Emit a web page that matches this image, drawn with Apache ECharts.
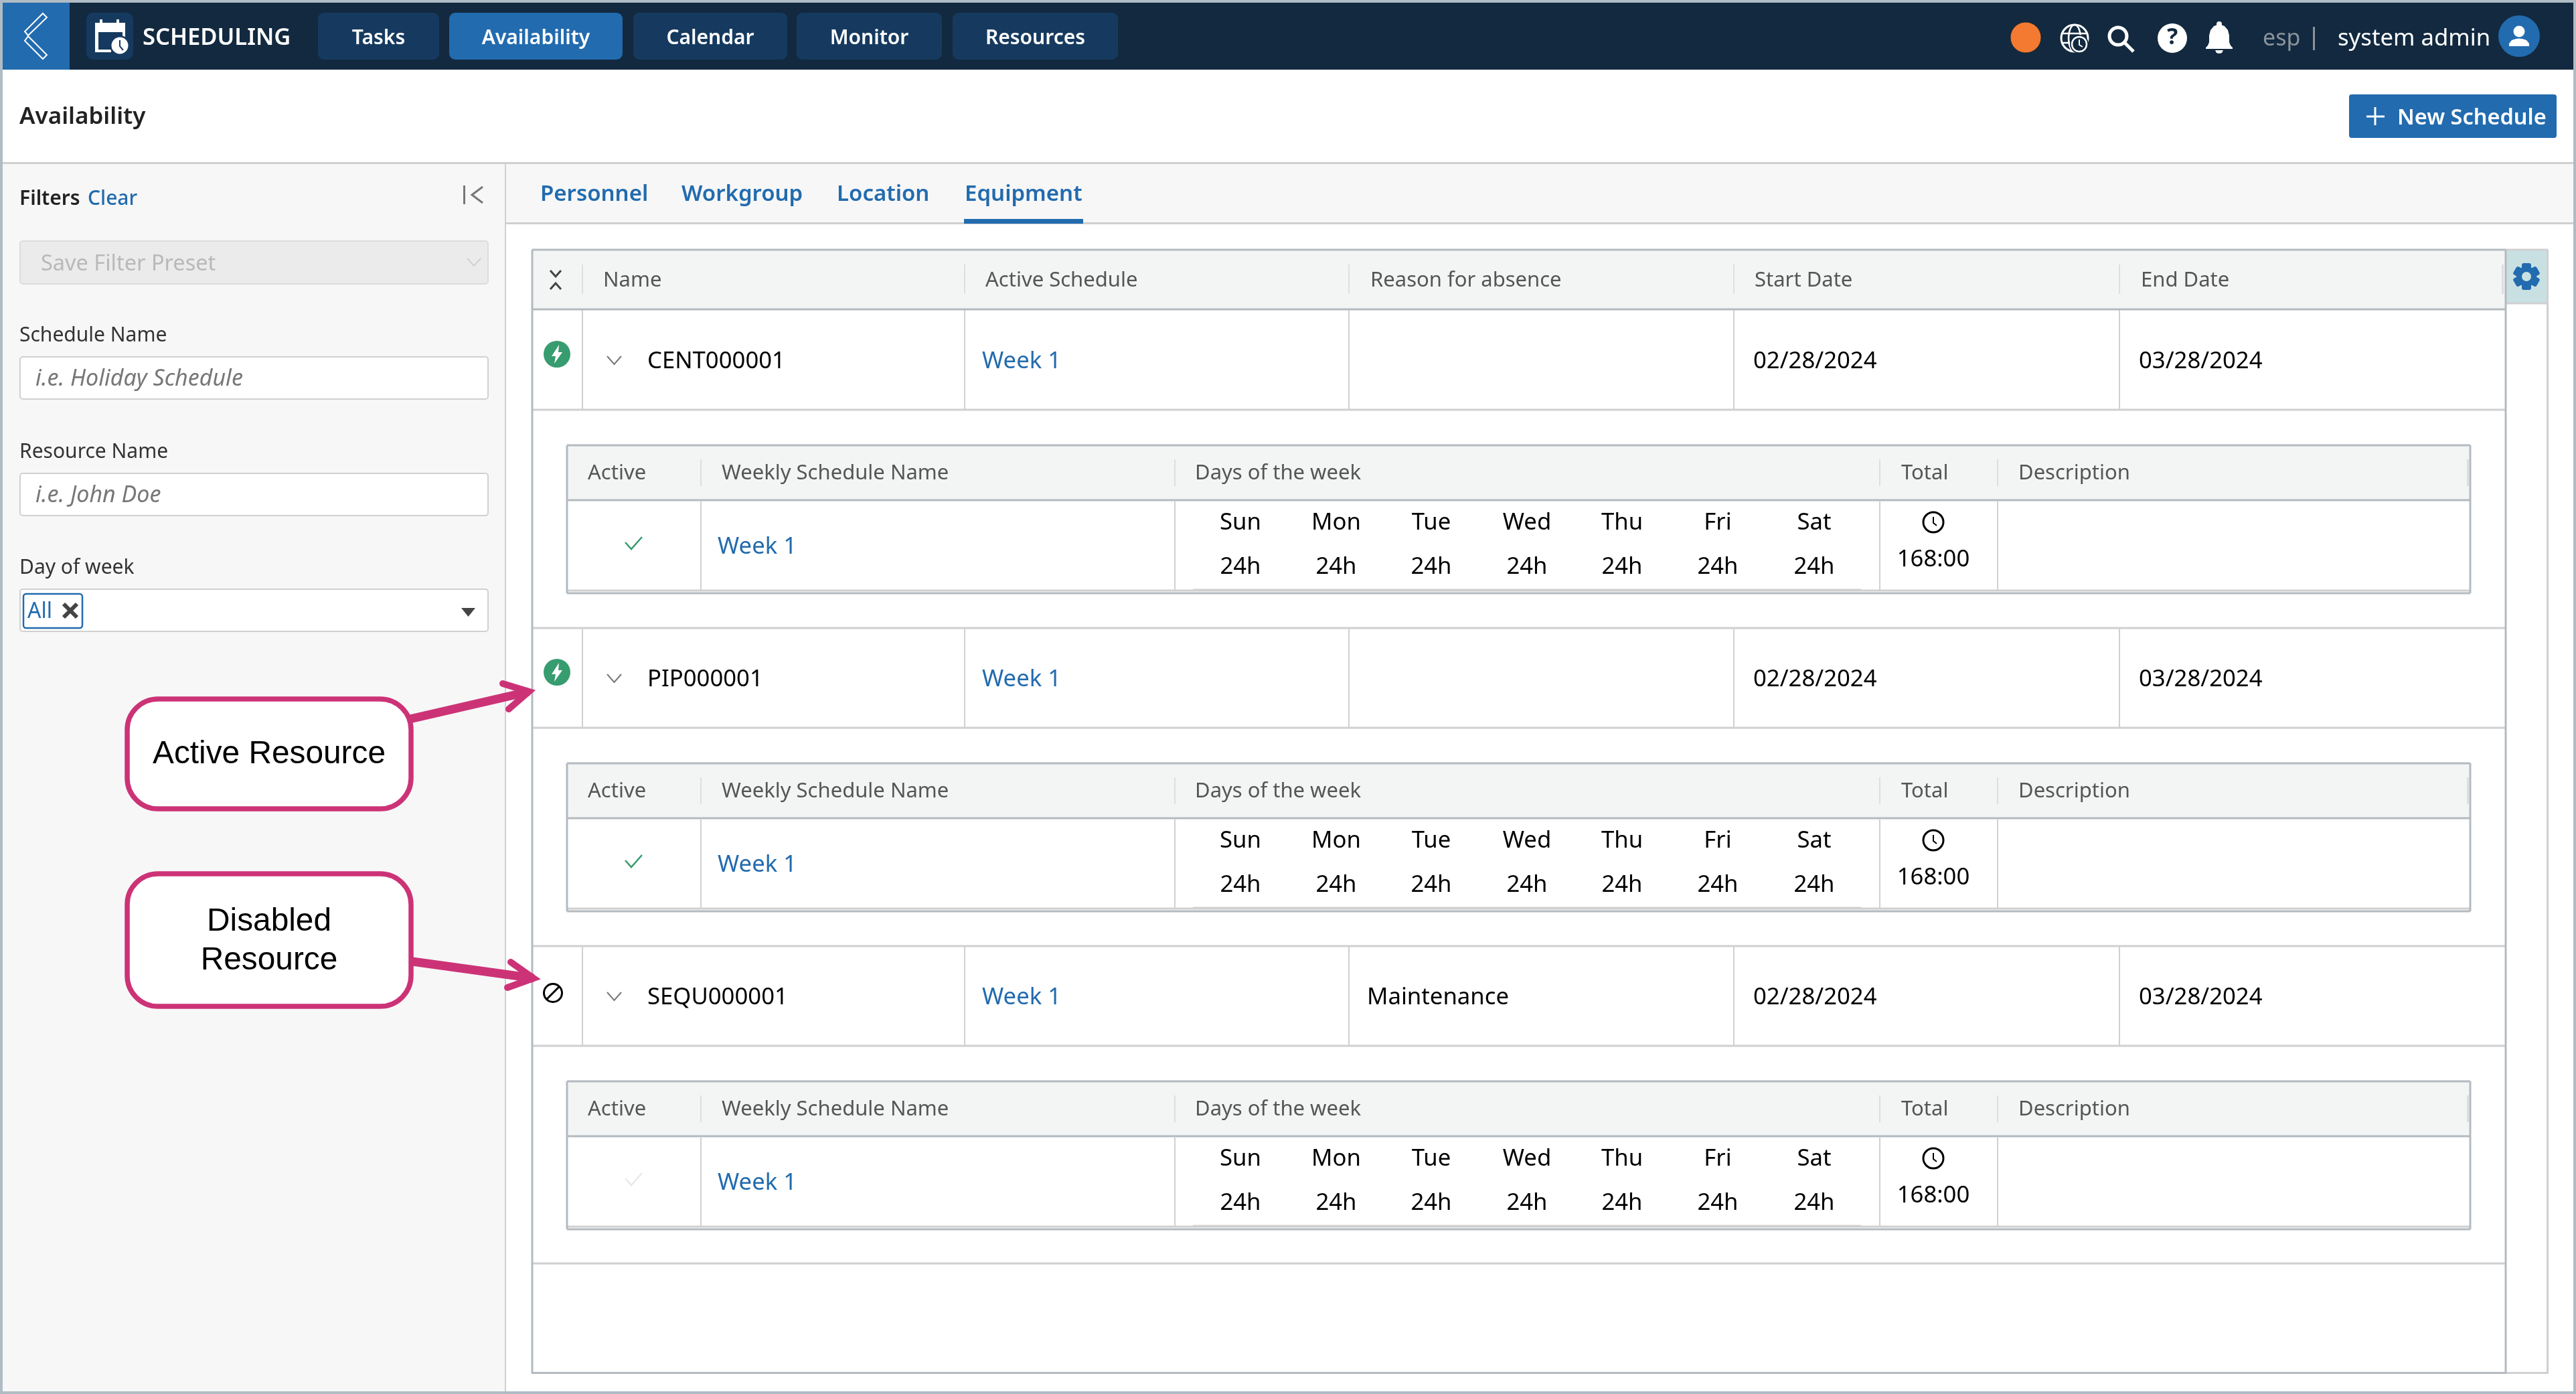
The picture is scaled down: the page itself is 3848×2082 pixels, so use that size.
<!DOCTYPE html>
<html>
<head>
<meta charset="utf-8">
<title>Availability</title>
<style>
  html, body { margin: 0; padding: 0; background: #fff; }
  #main { width: 3848px; height: 2082px; }
</style>
<script src="https://cdn.jsdelivr.net/npm/echarts@6/dist/echarts.min.js"></script>
</head>
<body>
<div id="main"></div>
<script>
// data
const navItems = ['Tasks', 'Availability', 'Calendar', 'Monitor', 'Resources']
const tabItems = ['Personnel', 'Workgroup', 'Location', 'Equipment']
const columnNames = ['Name', 'Active Schedule', 'Reason for absence', 'Start Date', 'End Date']
const subColumnNames = ['Active', 'Weekly Schedule Name', 'Days of the week', 'Total', 'Description']
const resourceNames = ['CENT000001', 'PIP000001', 'SEQU000001']
const resourceStates = ['active', 'active', 'disabled']
const activeSchedules = ['Week 1', 'Week 1', 'Week 1']
const absenceReasons = ['', '', 'Maintenance']
const startDates = ['02/28/2024', '02/28/2024', '02/28/2024']
const endDates = ['03/28/2024', '03/28/2024', '03/28/2024']
const weekDays = ['Sun', 'Mon', 'Tue', 'Wed', 'Thu', 'Fri', 'Sat']
const dayHours = ['24h', '24h', '24h', '24h', '24h', '24h', '24h']
const weeklyTotals = ['168:00', '168:00', '168:00']

const BLUE = '#226bae'
const NAVY = '#12293f'
const NAVBTN = '#163a5f'
const LINE = '#d0d0d0'
const EDGE = '#b3bac0'
const HEAD = '#f3f5f5'
const GREEN = '#379c6f'
const PINK = '#cc3377'
const FONT = '"Noto Sans"'
const CELL = 34.7

const els = []

function rect (x, y, w, h, fill, opt) {
  opt = opt || {}
  els.push({
    type: 'rect',
    shape: { x: x, y: y, width: w, height: h, r: opt.r || 0 },
    style: { fill: fill, stroke: opt.stroke || null, lineWidth: opt.lw || 0 }
  })
}
function line (x1, y1, x2, y2, color, lw) {
  els.push({
    type: 'line',
    shape: { x1: x1, y1: y1, x2: x2, y2: y2 },
    style: { stroke: color, lineWidth: lw || 2 }
  })
}
function poly (points, color, lw, cap) {
  els.push({
    type: 'polyline',
    shape: { points: points },
    style: { stroke: color, lineWidth: lw || 2, fill: null, lineCap: cap || 'butt', lineJoin: 'miter' }
  })
}
function fillPoly (points, color) {
  els.push({ type: 'polygon', shape: { points: points }, style: { fill: color } })
}
function circle (cx, cy, r, fill, stroke, lw) {
  els.push({
    type: 'circle',
    shape: { cx: cx, cy: cy, r: r },
    style: { fill: fill, stroke: stroke || null, lineWidth: lw || 0 }
  })
}
function text (str, x, y, size, color, opt) {
  opt = opt || {}
  els.push({
    type: 'text',
    x: x,
    // canvas middle sits a little high against the screenshot
    y: y + 3.5,
    style: {
      text: str,
      fill: color,
      font: (opt.style ? opt.style + ' ' : '') + (opt.weight || 400) + ' ' + size + 'px ' + (opt.family || FONT),
      align: opt.align || 'left',
      verticalAlign: 'middle'
    }
  })
}

// page frame
function drawFrame () {
  rect(0, 0, 3848, 2082, '#b0bcc4')
  rect(4, 4, 3840, 2074, '#ffffff')
  rect(4, 4, 3840, 100, NAVY)
  rect(4, 4, 100, 100, BLUE)
  rect(4, 244, 3840, 88, '#f7f7f7')
  rect(4, 244, 750, 1834, '#f7f7f7')
  rect(4, 242, 3840, 3, LINE)
  rect(755, 332, 3089, 3, LINE)
  rect(754, 244, 2, 1834, LINE)
}

function drawNavbar () {
  // back chevron
  els.push({ type: 'polygon', shape: { points: [[64, 20], [70, 26], [42, 53], [37, 47]] }, style: { fill: null, stroke: '#fff', lineWidth: 2 } })
  els.push({ type: 'polygon', shape: { points: [[42, 54], [70, 82], [64, 88], [37, 61]] }, style: { fill: null, stroke: '#fff', lineWidth: 2 } })
  // calendar icon
  rect(129, 19, 70, 70, NAVBTN, { r: 10 })
  rect(142, 34, 45, 14, '#fff')
  rect(149, 29, 4, 6, '#fff')
  rect(174, 29, 4, 6, '#fff')
  rect(142, 48, 5, 30, '#fff')
  rect(142, 74, 24, 4, '#fff')
  rect(183, 48, 4, 8, '#fff')
  circle(179, 68, 15, NAVBTN)
  circle(179, 68, 12.5, '#fff')
  poly([[179, 60], [179, 69], [184, 75]], NAVBTN, 2)
  text('SCHEDULING', 213, 53.5, 34.5, '#fff', { weight: 600 })

  const navX = [[475, 656], [671, 930], [946, 1176], [1190, 1407], [1423, 1670]]
  navItems.forEach((name, i) => {
    const b = navX[i]
    rect(b[0], 19, b[1] - b[0], 70, name === 'Availability' ? BLUE : NAVBTN, { r: 9 })
    text(name, (b[0] + b[1]) / 2, 53.5, 30, '#fff', { weight: 600, align: 'center' })
  })

  // right side icons
  circle(3026, 56, 23, '#f47a31', '#2a2a2a', 1)
  // globe with clock
  circle(3099, 57, 20, null, '#fff', 3)
  els.push({ type: 'ellipse', shape: { cx: 3099, cy: 57, rx: 9, ry: 20 }, style: { fill: null, stroke: '#fff', lineWidth: 2.5 } })
  line(3079, 50, 3119, 50, '#fff', 2.5)
  line(3079, 64, 3119, 64, '#fff', 2.5)
  circle(3106, 66, 14, NAVY)
  circle(3106, 66, 11, NAVY, '#fff', 2.5)
  poly([[3106, 59], [3106, 67], [3111, 70]], '#fff', 2)
  // search
  circle(3164, 54, 13, null, '#fff', 5)
  line(3174, 64, 3187, 77, '#fff', 5)
  // help
  circle(3245, 57, 22, '#fff')
  text('?', 3245, 52.5, 34, NAVY, { weight: 700, align: 'center' })
  // bell
  circle(3315, 36, 4, '#fff')
  fillPoly([[3315, 36], [3307, 39], [3302, 45], [3300, 53], [3300, 63], [3298, 68], [3295, 71], [3295, 73], [3335, 73], [3335, 71], [3332, 68], [3330, 63], [3330, 53], [3328, 45], [3323, 39]], '#fff')
  fillPoly([[3309, 75], [3321, 75], [3319, 79], [3315, 80], [3311, 79]], '#fff')
  text('esp', 3380, 54.5, 34, '#8a939b')
  rect(3455, 40, 3, 35, '#8a939b')
  text('system admin', 3492, 54.5, 34.7, '#fff')
  circle(3763, 54, 31, BLUE)
  circle(3763, 47, 8.5, '#fff')
  fillPoly([[3748, 69], [3748, 65], [3752, 60], [3758, 58], [3763, 57.5], [3768, 58], [3774, 60], [3778, 65], [3778, 69]], '#fff')
}

function drawPageHead () {
  text('Availability', 29, 172, 35, '#222', { weight: 600 })
  rect(3509, 141, 310, 65, BLUE, { r: 4 })
  line(3535, 174, 3562, 174, '#fff', 3)
  line(3548, 160, 3548, 187, '#fff', 3)
  text('New Schedule', 3581, 173.5, 32.5, '#fff', { weight: 600 })
}

function inputBox (y, h, fill, border) {
  rect(30, y, 699, h, fill, { r: 4, stroke: border, lw: 2 })
}

function drawSidebar () {
  text('Filters', 29, 294, 30, '#222', { weight: 600 })
  text('Clear', 131, 294, 30, BLUE, { weight: 500 })
  rect(692, 277, 3, 28, '#777')
  poly([[721, 279], [705, 291], [721, 303]], '#777', 3)

  inputBox(360, 64, '#ebebeb', '#dddddd')
  text('Save Filter Preset', 61, 391, 32.5, '#b9b9b9')
  poly([[698, 386], [708, 397], [718, 386]], '#c8c8c8', 1.5)

  text('Schedule Name', 29, 498, 30, '#333')
  inputBox(533, 63, '#fff', LINE)
  text('i.e. Holiday Schedule', 53, 563, 34, '#777', { style: 'italic' })

  text('Resource Name', 29, 672, 30, '#333')
  inputBox(707, 63, '#fff', LINE)
  text('i.e. John Doe', 53, 737, 34, '#777', { style: 'italic' })

  text('Day of week', 29, 845, 30, '#333')
  inputBox(880, 63, '#fff', LINE)
  rect(35, 887, 88, 51, '#fff', { r: 4, stroke: BLUE, lw: 2.5 })
  text('All', 41, 910, 32, BLUE)
  line(95, 902, 115, 922, '#444', 6)
  line(115, 902, 95, 922, '#444', 6)
  fillPoly([[689, 908], [710, 908], [699.5, 921]], '#444')
}

function drawTabs () {
  const tabX = [807, 1018, 1250, 1441]
  tabItems.forEach((name, i) => {
    text(name, tabX[i], 287, 33, BLUE, { weight: 600 })
  })
  rect(1440, 327, 178, 7, BLUE)
}

function drawMainTable () {
  const colLines = [870, 1441, 2015, 2590, 3166]
  const colText = [901, 1472, 2047, 2621, 3198]
  rect(795, 373, 2947, 90, HEAD)
  // gear column
  rect(3743, 373, 63, 80, '#c9e0e3')
  line(3743, 453, 3806, 453, LINE, 3)
  line(3743, 373, 3806, 373, LINE, 3)
  line(3805.5, 373, 3805.5, 2052, LINE, 3)
  for (let i = 0; i < 3; i++) {
    els.push({
      type: 'rect',
      x: 3774,
      y: 413,
      rotation: i * Math.PI / 3,
      shape: { x: -7, y: -20, width: 14, height: 40, r: 3 },
      style: { fill: BLUE }
    })
  }
  circle(3774, 413, 15, BLUE)
  circle(3774, 413, 7, '#c9e0e3')

  columnNames.forEach((name, i) => {
    text(name, colText[i], 416, 31, '#555')
    line(colLines[i], 395, colLines[i], 439, '#dcdfe0', 2)
  })
  rect(3737, 395, 3, 44, '#dcdfe0')
  // collapse all
  poly([[822, 404], [830, 413], [838, 404]], '#444', 3)
  poly([[822, 432], [830, 423], [838, 432]], '#444', 3)

  resourceNames.forEach((name, i) => {
    const dy = i * 475
    drawRow(i, dy, colLines)
    drawSubTable(i, dy)
  })
  line(795, 1887, 3742, 1887, LINE, 3)

  // outer frame
  line(3743, 2050.5, 3806, 2050.5, LINE, 3)
  line(795, 373, 3743, 373, EDGE, 3)
  line(795, 462, 3743, 462, EDGE, 3)
  line(795, 373, 795, 2052, EDGE, 3)
  line(3743, 373, 3743, 2052, EDGE, 3)
  line(795, 2050.5, 3743, 2050.5, EDGE, 3)
}

function drawRow (i, dy, colLines) {
  const top = 463 + dy
  const mid = 537 + dy
  line(795, top + 149, 3742, top + 149, LINE, 3)
  if (i > 0) line(795, top, 3742, top, LINE, 3)
  colLines.forEach(x => line(x, top, x, top + 149, LINE, 2))

  if (resourceStates[i] === 'active') {
    const cy = 529 + dy
    circle(832, cy, 20, GREEN)
    fillPoly([[835, cy - 14], [824, cy + 3], [830, cy + 3], [828, cy + 14], [840, cy - 3], [834, cy - 3]], '#fff')
  } else {
    const cy = 1483
    circle(826, cy, 13.5, '#fff', '#000', 3)
    line(816, cy + 10, 836, cy - 10, '#000', 3)
  }
  poly([[907, 532 + dy], [917.5, 544 + dy], [928, 532 + dy]], '#777', 2)
  text(resourceNames[i], 967, mid, CELL, '#000')
  text(activeSchedules[i], 1467, mid, CELL, BLUE)
  if (absenceReasons[i]) text(absenceReasons[i], 2042, mid, CELL, '#000')
  text(startDates[i], 2619, mid, CELL, '#000')
  text(endDates[i], 3195, mid, CELL, '#000')
}

function drawSubTable (i, dy) {
  const left = 847
  const right = 3690
  const top = 665 + dy
  const sepX = [1047, 1755, 2808, 2984]
  const headX = [878, 1078, 1785, 2840, 3015]
  const dayX = [1853, 1996, 2138, 2281, 2423, 2566, 2710]

  rect(left, top, right - left, 82, HEAD)
  subColumnNames.forEach((name, c) => {
    text(name, headX[c], top + 39, 31, '#555')
  })
  sepX.forEach(x => {
    line(x, top + 21, x, top + 61, '#dcdfe0', 2)
    line(x, top + 84, x, top + 217, LINE, 2)
  })
  rect(3685, top + 21, 3, 40, '#dcdfe0')

  const checkColor = resourceStates[i] === 'active' ? GREEN : '#e9e9e9'
  poly([[934, 810 + dy], [943, 820 + dy], [959, 802 + dy]], checkColor, 2.5)
  text(activeSchedules[i], 1072, 814 + dy, CELL, BLUE)

  weekDays.forEach((d, c) => {
    text(d, dayX[c], 778 + dy, CELL, '#000', { align: 'center' })
    text(dayHours[c], dayX[c], 844 + dy, CELL, '#000', { align: 'center' })
  })
  line(1782, 881 + dy, 2780, 881 + dy, LINE, 3)

  // clock + total
  circle(2888, 780 + dy, 15, null, '#000', 3)
  poly([[2888, 772 + dy], [2888, 781 + dy], [2893, 785 + dy]], '#000', 2)
  text(weeklyTotals[i], 2888, 833 + dy, CELL, '#000', { align: 'center' })

  line(left, top + 217, right, top + 217, LINE, 3)
  line(left, top, right, top, EDGE, 3)
  line(left, top + 82, right, top + 82, EDGE, 3)
  line(left, top + 221, right, top + 221, EDGE, 3)
  line(left, top, left, top + 221, EDGE, 3)
  line(right, top, right, top + 221, EDGE, 3)
}

function callout (x, y, w, h, labels, labelY) {
  rect(x, y, w, h, '#fff', { r: 46, stroke: PINK, lw: 7.5 })
  labels.forEach((s, i) => {
    text(s, x + w / 2, labelY[i], 47.8, '#000', { align: 'center', family: '"Liberation Sans"' })
  })
}

function arrow (from, tip, arm1, arm2) {
  poly([from, tip], PINK, 13)
  poly([arm1, tip, arm2], PINK, 10, 'round')
}

function drawCallouts () {
  arrow([612, 1074], [790, 1033], [751, 1021], [760, 1059])
  arrow([616, 1436], [797, 1461], [763, 1437], [758, 1475])
  callout(190, 1044, 424, 164, ['Active Resource'], [1123.5])
  callout(190, 1305, 424, 198, ['Disabled', 'Resource'], [1373.5, 1431])
}

drawFrame()
drawNavbar()
drawPageHead()
drawSidebar()
drawTabs()
drawMainTable()
drawCallouts()

const chart = echarts.init(document.getElementById('main'))
chart.setOption({
  animation: false,
  backgroundColor: '#ffffff',
  graphic: { elements: els }
})
</script>
</body>
</html>
